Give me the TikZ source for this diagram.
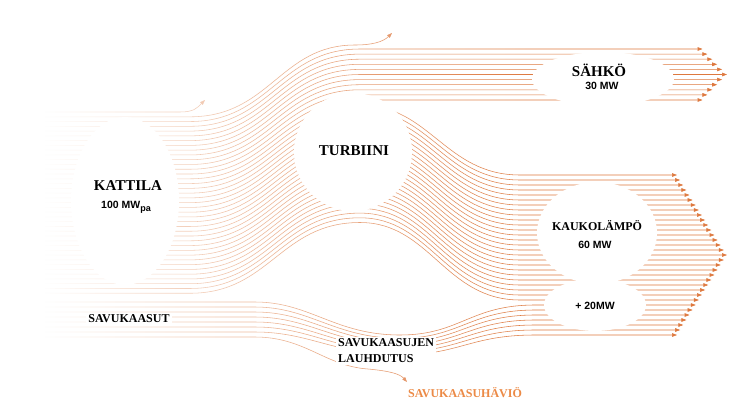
\documentclass[tikz,border=0pt]{standalone}
\usepackage{fontspec}
\setmainfont{Liberation Serif}
\setsansfont{Liberation Sans}
\usetikzlibrary{arrows.meta,fadings}
\definecolor{flowc}{RGB}{222,120,62}
\definecolor{losstext}{RGB}{236,138,70}
\pgfdeclareradialshading{softdiscsh}{\pgfpointorigin}{color(0bp)=(pgftransparent!0); color(42bp)=(pgftransparent!0); color(50bp)=(pgftransparent!100)}
\pgfdeclarefading{softdisc}{\pgfuseshading{softdiscsh}}
\begin{document}
\begin{tikzpicture}[x=1pt,y=-1pt,
 flow/.style={draw=flowc, line width=0.55pt},
 tip/.style={-{Triangle[width=3.6pt,length=5pt]}},
 bigt/.style={font=\bfseries\fontsize{15}{17}\selectfont, inner sep=1pt},
 midt/.style={font=\bfseries\fontsize{12}{16}\selectfont, inner sep=1pt},
 numt/.style={font=\sffamily\bfseries\fontsize{10.5}{12}\selectfont, inner sep=1pt},
 blank/.style={fill=white, path fading=softdisc}]
\useasboundingbox (0,0) rectangle (742,418);
\clip (0,0) rectangle (742,418);
\fill[white] (0,0) rectangle (742,418);
% boiler loss
\draw[flow,tip] (45,112) -- (180,112) .. controls (194,112) and (197,108) .. (205,100);
% turbine loss
\draw[flow,tip] (45,116.8) -- (190,116.8) .. controls (270,116.8) and (280,45) .. (355,45) .. controls (372,45) and (383,42) .. (392,33);
% electricity
\foreach \j in {0,...,10}{
 \pgfmathsetmacro\yL{121.54+4.77*\j}
 \pgfmathsetmacro\yR{49+5.1*\j}
 \pgfmathsetmacro\xT{727-0.96*abs(\yR-74.5)}
 \draw[flow,tip] (45,\yL) -- (190,\yL) .. controls (270,\yL) and (280,\yR) .. (360,\yR) -- (\xT,\yR);
}
% district heat from turbine
\foreach \m in {0,...,25}{
 \pgfmathsetmacro\yL{174.01+4.77*\m}
 \pgfmathsetmacro\yM{105+4.7*\m}
 \pgfmathsetmacro\yR{175+5*\m}
 \pgfmathsetmacro\xT{727-0.625*abs(\yR-255)}
 \draw[flow,tip] (45,\yL) -- (190,\yL) .. controls (270,\yL) and (280,\yM) .. (360,\yM) .. controls (430,\yM) and (445,\yR) .. (520,\yR) -- (\xT,\yR);
}
% flue gas condensation
\foreach \j in {0,...,6}{
 \pgfmathsetmacro\yL{302+5*\j}
 \pgfmathsetmacro\yM{335+3.3*\j}
 \pgfmathsetmacro\yR{305+5*\j}
 \pgfmathsetmacro\xT{727-0.625*abs(\yR-255)}
 \draw[flow,tip] (45,\yL) -- (255,\yL) .. controls (310,\yL) and (335,\yM) .. (400,\yM) .. controls (460,\yM) and (470,\yR) .. (535,\yR) -- (\xT,\yR);
}
% flue gas loss
\draw[flow,tip] (45,337) -- (255,337) .. controls (305,337) and (325,366) .. (368,369) .. controls (390,371) and (400,374) .. (407,382);
% fade on the left: white strips of falling opacity
\foreach \i in {0,...,107}{
 \pgfmathsetmacro\xa{5*\i}
 \pgfmathsetmacro\xc{\xa+2.5}
 \pgfmathsetmacro\op{\xc<45 ? 1 : (\xc<270 ? 1-0.55*(\xc-45)/225 : 0.45*(540-\xc)/270)}
 \fill[white, fill opacity=\op] (\xa,0) rectangle (\xa+5,418);
}
% blank discs
\fill[blank] (125,201) ellipse [x radius=54, y radius=84];
\fill[blank] (353,152) ellipse [x radius=59, y radius=59];
\fill[blank] (603,79) ellipse [x radius=71, y radius=27];
\fill[blank] (597,233) ellipse [x radius=60, y radius=51];
\fill[blank] (595,305) ellipse [x radius=51, y radius=26];
% texts
\node[bigt] (kattila) at (128,186) {KATTILA};
\node[numt] (kattilamw) at (126,207) {100 MW\raisebox{-0.5ex}{\fontsize{9}{9}\selectfont pa}};
\node[bigt] (turbiini) at (354,151) {TURBIINI};
\node[bigt] (sahko) at (599,70) {SÄHKÖ};
\node[numt] (sahkomw) at (602,86) {30 MW};
\node[midt] (kauko) at (597,226) {KAUKOLÄMPÖ};
\node[numt] (kaukomw) at (595,245) {60 MW};
\node[numt] (lisamw) at (595,306) {+ 20MW};
\node[midt, fill=white, inner sep=2pt] (savu) at (129,319) {SAVUKAASUT};
\node[midt, fill=white, inner sep=2pt, align=left, anchor=west] (lauh) at (336,351) {SAVUKAASUJEN\\LAUHDUTUS};
\node[midt, text=losstext] (havio) at (465,393) {SAVUKAASUHÄVIÖ};
\end{tikzpicture}
\end{document}
